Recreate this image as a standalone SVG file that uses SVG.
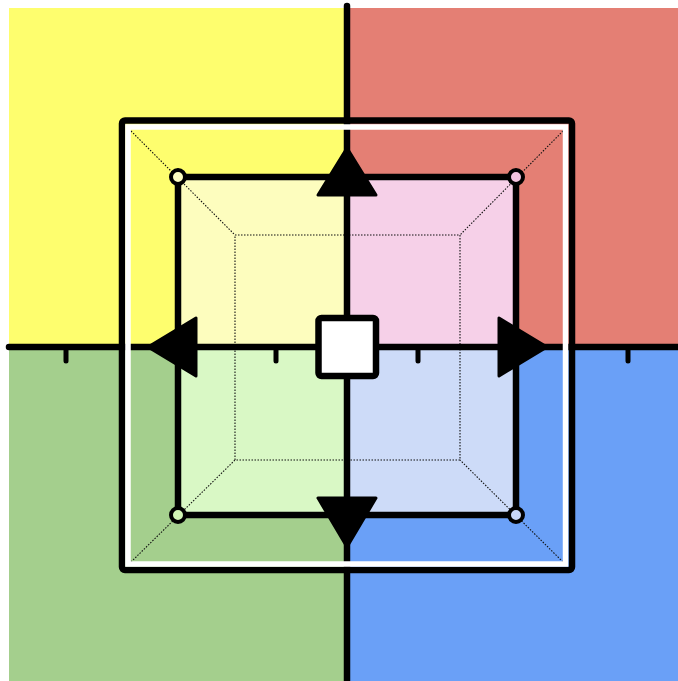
<svg xmlns="http://www.w3.org/2000/svg" width="678" height="681" viewBox="0 0 678 681">
<style>
.ax{stroke:#000;stroke-width:6.5;stroke-linecap:round;fill:none}
.tick{stroke:#000;stroke-width:5;stroke-linecap:round}
.dot{stroke:#111;stroke-width:1.1;stroke-dasharray:1.5 1.5;fill:none}
.arr{fill:#000;stroke:#000;stroke-width:3;stroke-linejoin:round}
.node{stroke:#000;stroke-width:4}
</style>
<rect width="678" height="681" fill="#fff"/>
<g id="quadrants">
<rect x="9" y="8" width="338" height="339" fill="#fefe6e"/>
<rect x="347" y="8" width="331" height="339" fill="#e47f74"/>
<rect x="9" y="347" width="338" height="334" fill="#a4cf8d"/>
<rect x="347" y="347" width="331" height="334" fill="#6aa0f7"/>
</g>
<g id="inner-fills">
<rect x="178" y="177" width="169" height="170" fill="#fdfdbe"/>
<rect x="347" y="177" width="169" height="170" fill="#f6d0e8"/>
<rect x="178" y="347" width="169" height="168" fill="#d9f8c5"/>
<rect x="347" y="347" width="169" height="168" fill="#cddbf8"/>
</g>
<g id="guides">
<rect class="dot" x="235" y="235" width="225" height="225"/>
<line class="dot" x1="131" y1="131" x2="235" y2="235"/>
<line class="dot" x1="563" y1="131" x2="460" y2="235"/>
<line class="dot" x1="131" y1="562" x2="235" y2="460"/>
<line class="dot" x1="563" y1="562" x2="460" y2="460"/>
</g>
<g id="connectors">
<line class="ax" x1="9" y1="347" x2="690" y2="347"/>
<line class="ax" x1="347" y1="6" x2="347" y2="690"/>
<line class="tick" x1="66" y1="347" x2="66" y2="361"/>
<line class="tick" x1="276" y1="347" x2="276" y2="361"/>
<line class="tick" x1="418" y1="347" x2="418" y2="361"/>
<line class="tick" x1="628" y1="347" x2="628" y2="361"/>
</g>
<g id="frame">
<rect x="122" y="120.5" width="450" height="449.5" rx="3" fill="none" stroke="#000" stroke-width="6.5"/>
<rect x="128" y="127" width="437.5" height="437" fill="none" stroke="#fff" stroke-width="5.5"/>
</g>
<g id="square">
<rect x="178" y="177" width="338" height="338" fill="none" stroke="#000" stroke-width="6.5"/>
</g>
<g id="node-tl"><circle class="node" cx="178" cy="177" r="7" fill="#fdfdc0"/></g>
<g id="node-tr"><circle class="node" cx="516" cy="177" r="7" fill="#f3c4e0"/></g>
<g id="node-bl"><circle class="node" cx="178" cy="515" r="7" fill="#d2f5b5"/></g>
<g id="node-br"><circle class="node" cx="516" cy="515" r="7" fill="#c8d7f8"/></g>
<g id="arrow-up"><polygon class="arr" points="347,148 318,195 376,195"/></g>
<g id="arrow-left"><polygon class="arr" points="148,347 196,318 196,376"/></g>
<g id="arrow-right"><polygon class="arr" points="547,347 499,318 499,376"/></g>
<g id="arrow-down"><polygon class="arr" points="347,547 318,498 376,498"/></g>
<g id="center"><rect x="318.5" y="318" width="57.5" height="58" rx="3" fill="#fff" stroke="#000" stroke-width="6.5"/></g>
</svg>
